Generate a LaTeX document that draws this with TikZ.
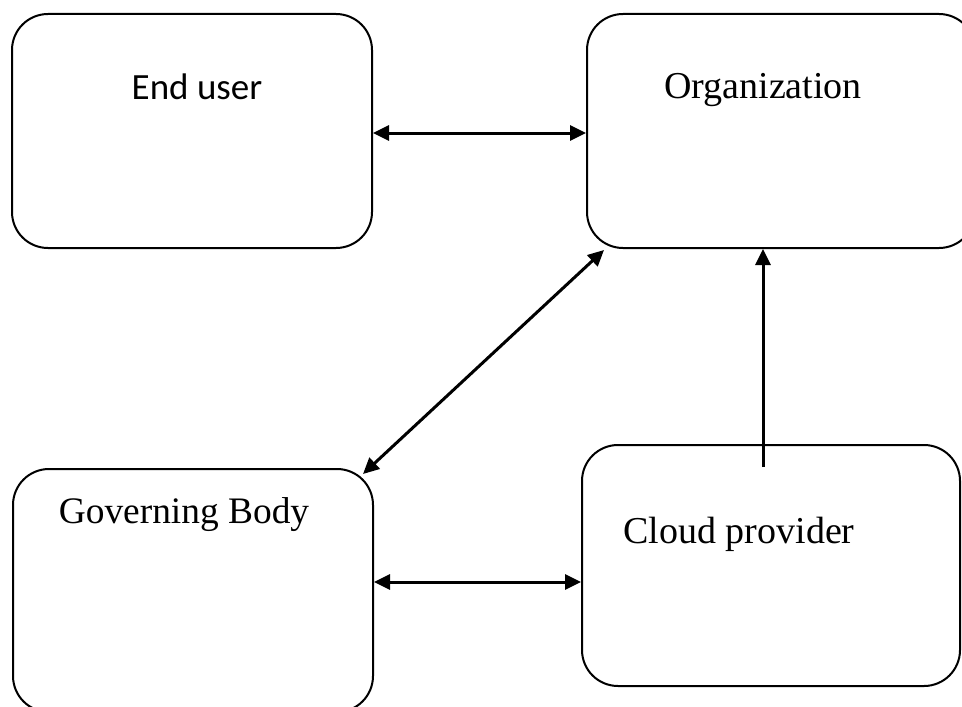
\documentclass[tikz,border=0pt]{standalone}
\usepackage{fontspec}
\setmainfont{Liberation Serif}
\newfontfamily\labelsans{Carlito}
\usetikzlibrary{arrows.meta,calc}
\tikzset{
  box/.style={draw=black, line width=1pt, rounded corners=18pt, inner sep=0pt},
  tip/.style={Triangle[length=8pt,width=7.5pt]},
  link/.style={line width=1.5pt, {Triangle[length=8pt,width=7.5pt]}-{Triangle[length=8pt,width=7.5pt]}},
  uplink/.style={line width=1.5pt, -{Triangle[length=8pt,width=7.5pt]}},
  serifl/.style={anchor=base, font=\fontsize{19}{22}\selectfont},
  sansl/.style={anchor=base, font=\labelsans\fontsize{18.5}{22}\selectfont},
}
\begin{document}
\begin{tikzpicture}[x=0.5pt, y=-0.5pt]
  \useasboundingbox (0,0) rectangle (962,706);
  \clip (0,0) rectangle (962,706);
  \fill[white] (0,0) rectangle (962,706);

  % boxes
  \node[box, minimum width=180pt, minimum height=117pt] (eu) at (192,131) {};
  \node[box, minimum width=194pt, minimum height=117pt] (org) at (781,131) {};
  \node[box, minimum width=180pt, minimum height=121.5pt] (gov) at (193,590.5) {};
  \node[box, minimum width=189pt, minimum height=120.5pt] (cloud) at (771,565.5) {};

  % labels
  \node[sansl] (eut) at (197,99) {End user};
  \node[serifl] (orgt) at (763,98) {Organization};
  \node[serifl, font=\fontsize{18.7}{22}\selectfont] (govt) at (184,523) {Governing Body};
  \node[serifl] (cloudt) at (739,543) {Cloud provider};

  % connectors
  \coordinate (ytop) at (0,133);
  \coordinate (ybot) at (0,582);
  \draw[link] (eu.east |- ytop) -- (org.west |- ytop);
  \draw[link] (gov.east |- ybot) -- (cloud.west |- ybot);
  \draw[link] ($(gov.north east)+(-11,6)$) -- ($(org.south west)+(18,1)$);
  \coordinate (upfoot) at ($(cloud.north)+(-8,23)$);
  \draw[uplink] (upfoot) -- (upfoot |- org.south);
\end{tikzpicture}
\end{document}
